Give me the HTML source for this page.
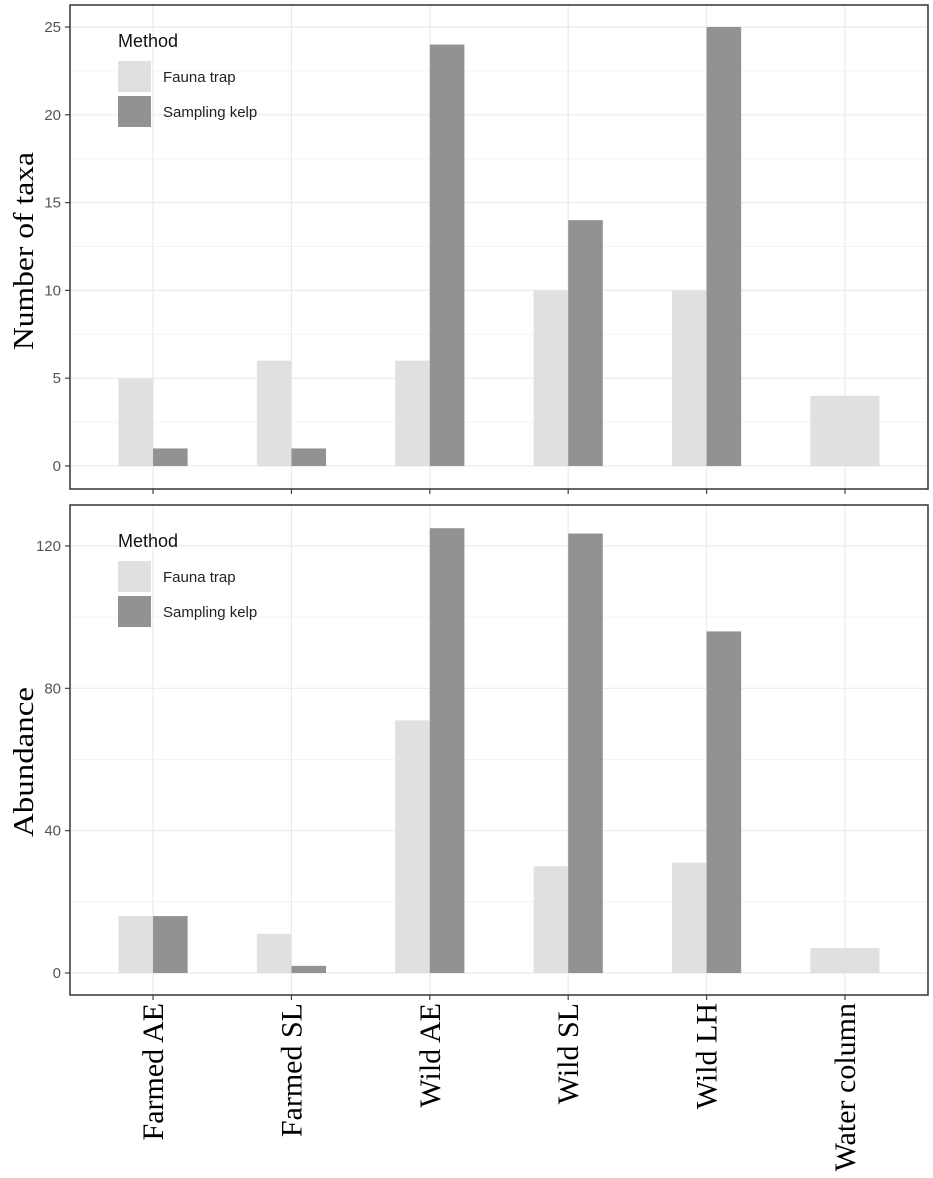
<!DOCTYPE html>
<html><head><meta charset="utf-8"><style>
html,body{margin:0;padding:0;background:#fff;}
svg{display:block;}
</style></head><body>
<svg id="chart" width="933" height="1178" xmlns="http://www.w3.org/2000/svg"></svg>
<script>
const categories = ["Farmed AE","Farmed SL","Wild AE","Wild SL","Wild LH","Water column"];
const taxaFauna = [5,6,6,10,10,4];
const taxaKelp = [1,1,24,14,25,null];
const abundFauna = [16,11,71,30,31,7];
const abundKelp = [16,2,125,123.5,96,null];
const taxaTicks = [0,5,10,15,20,25];
const abundTicks = [0,40,80,120];

const NS="http://www.w3.org/2000/svg";
const svg=document.getElementById('chart');
function el(tag,attrs,parent){const e=document.createElementNS(NS,tag);for(const k in attrs)e.setAttribute(k,attrs[k]);(parent||svg).appendChild(e);return e;}
const left=70,right=928,step=(right-left)/6.2;
function xC(i){return left+step*(0.6+i);}
const barW=step*0.25;
const FAUNA="#e0e0e0",KELP="#929292";

function panel(name,top,bottom,y0px,ytopVal,ytopPx,ticks,fauna,kelp,title,titleCenter,titleLen){
  const g=el('g',{});  
  const y=v=>y0px-(v/ytopVal)*(y0px-ytopPx);
  for(let i=0;i<ticks.length;i++){
    const mid=ticks[i]+(ticks[1]-ticks[0])/2;
    const yy=y(mid); if(yy>top&&yy<bottom){const l=el('line',{x1:left,x2:right,y1:yy,y2:yy,stroke:'#f4f4f4','stroke-width':1},g);}
  }
  for(const t of ticks){const yy=y(t);const l=el('line',{x1:left,x2:right,y1:yy,y2:yy,stroke:'#ebebeb','stroke-width':1.2},g);
    const tl=el('line',{x1:left-5,x2:left,y1:yy,y2:yy,stroke:'#444','stroke-width':1.2},g);
    const tx=el('text',{x:left-9,y:yy+5,'text-anchor':'end','font-family':'Liberation Sans, sans-serif','font-size':15,fill:'#555'},g);tx.textContent=t;}
  categories.forEach((c,i)=>{const l=el('line',{x1:xC(i),x2:xC(i),y1:top,y2:bottom,stroke:'#ebebeb','stroke-width':1.2},g);
    const tk=el('line',{x1:xC(i),x2:xC(i),y1:bottom,y2:bottom+5,stroke:'#444','stroke-width':1.2},g);});
  categories.forEach((c,i)=>{
    if(kelp[i]==null){const r=el('rect',{x:xC(i)-barW,y:y(fauna[i]),width:barW*2,height:y0px-y(fauna[i]),fill:FAUNA},g);}
    else{const r=el('rect',{x:xC(i)-barW,y:y(fauna[i]),width:barW,height:y0px-y(fauna[i]),fill:FAUNA},g);
      const r2=el('rect',{x:xC(i),y:y(kelp[i]),width:barW,height:y0px-y(kelp[i]),fill:KELP},g);}
  });
  const b=el('rect',{x:left,y:top,width:right-left,height:bottom-top,fill:'none',stroke:'#333','stroke-width':1.5},g);
  const t=el('text',{x:0,y:0,transform:`translate(33,${titleCenter}) rotate(-90)`,'text-anchor':'middle','font-family':'Liberation Serif, serif','font-size':28,textLength:titleLen,lengthAdjust:'spacingAndGlyphs',fill:'#000'},g);t.textContent=title;
  const lg=el('g',{},g);
  const lt=el('text',{x:118,y:top+42,'font-family':'Liberation Sans, sans-serif','font-size':18,fill:'#111'},lg);lt.textContent='Method';
  [[FAUNA,'Fauna trap',56],[KELP,'Sampling kelp',91]].forEach(([col,lab,dy])=>{
    const k=el('rect',{x:118,y:top+dy,width:33,height:31,fill:col},lg);
    const tx=el('text',{x:163,y:top+dy+21,'font-family':'Liberation Sans, sans-serif','font-size':15,fill:'#222'},lg);tx.textContent=lab;
  });
}
panel('taxa',5,489,466,25,27,taxaTicks,taxaFauna,taxaKelp,'Number of taxa',251,198);
panel('abundance',505,995,973,120,546,abundTicks,abundFauna,abundKelp,'Abundance',762,150);
categories.forEach((c,i)=>{
  const t=el('text',{x:0,y:0,transform:`translate(${xC(i)+10},1003) rotate(-90)`,'text-anchor':'end','font-family':'Liberation Serif, serif','font-size':30,fill:'#000'});
  t.textContent=c;
  
  
});
</script>
</body></html>
